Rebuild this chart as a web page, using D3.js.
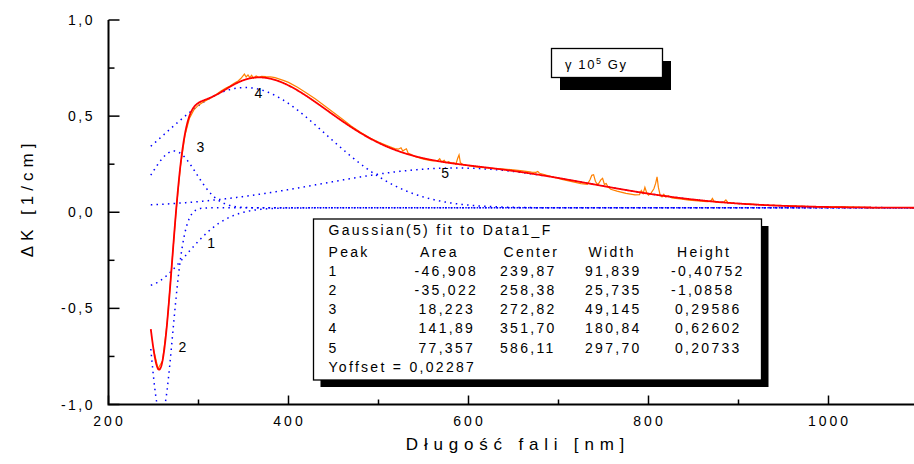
<!DOCTYPE html>
<html>
<head>
<meta charset="utf-8">
<script src="https://cdn.jsdelivr.net/npm/d3@7"></script>
<style>
  body { margin: 0; background: #fff; }
  svg { display: block; }
  text { font-family: "Liberation Sans", Arial, sans-serif; fill: #000; }
</style>
</head>
<body>
<svg id="chart" width="914" height="464"></svg>
<script>
// Gaussian(5) fit parameters as printed in the results table
const peakIds    = ["1", "2", "3", "4", "5"];
const peakArea   = ["-46,908", "-35,022", "18,223", "141,89", "77,357"];
const peakCenter = ["239,87", "258,38", "272,82", "351,70", "586,11"];
const peakWidth  = ["91,839", "25,735", "49,145", "180,84", "297,70"];
const peakHeight = ["-0,40752", "-1,0858", "0,29586", "0,62602", "0,20733"];
const yOffsetText = "0,02287";

// wavelength span of the fitted curves [nm]
const fitRange = [247, 1095];

// measured spectrum: [wavelength nm, deviation from the fitted sum]
const measuredDev = [
  [250, 0], [255, 0], [260, 0], [265, 0], [270, 0], [275, 0], [280, -0.004], [285, -0.008],
  [290, -0.012], [295, -0.014], [300, -0.012], [305, -0.008], [310, -0.004], [315, -0.002],
  [320, 0.002], [325, 0.006], [330, 0.006], [335, 0.004], [340, 0.006], [344, 0.008],
  [347, 0.014], [349, 0.022], [351, 0.03], [353, 0.012], [355, 0.02], [357, 0.004],
  [359, 0.014], [361, -0.002], [364, 0.008], [367, 0.0], [370, 0.006], [375, 0.006],
  [380, 0.01], [385, 0.012], [390, 0.012], [395, 0.014], [400, 0.016], [410, 0.016],
  [420, 0.016], [430, 0.016], [440, 0.015], [450, 0.013], [460, 0.01], [470, 0.006],
  [480, 0.004], [490, 0.002], [500, 0.004], [510, 0.006], [518, 0.006], [522, 0.01],
  [525, 0.022], [527, 0.008], [529, 0.018], [531, 0.026], [533, 0.006], [536, 0.004],
  [540, -0.002], [550, -0.004], [560, -0.004], [566, 0.004], [568, 0.014], [570, 0.0],
  [573, 0.01], [575, -0.002], [578, 0.006], [581, 0.0], [584, 0.004], [586, -0.002],
  [588, 0.03], [589.5, 0.048], [591, 0.008], [594, 0.0], [600, -0.002], [610, -0.003],
  [620, -0.002], [630, 0.0], [640, 0.004], [650, 0.006], [660, 0.007], [670, 0.008],
  [675, 0.01], [677, 0.016], [679, 0.008], [685, 0.005], [695, 0.0], [705, -0.004],
  [715, -0.006], [725, -0.008], [732, -0.006], [735, 0.02], [737, 0.045], [739, 0.05],
  [741, 0.018], [743, 0.004], [745, 0.012], [747, 0.03], [749, 0.04], [751, 0.01],
  [753, 0.016], [755, 0.0], [758, -0.01], [765, -0.014], [775, -0.017], [785, -0.017],
  [790, -0.013], [792, 0.01], [794, -0.004], [796, 0.03], [798, 0.004], [800, -0.008],
  [803, 0.006], [806, 0.03], [808, 0.06], [809.5, 0.094], [811, 0.04], [813, 0.0],
  [815, -0.006], [817, 0.008], [819, -0.004], [822, 0.004], [826, -0.005], [835, -0.005],
  [845, -0.005], [855, -0.004], [865, -0.003], [869, 0.0], [871, 0.016], [873, 0.0],
  [880, -0.003], [884, 0.004], [886, 0.014], [888, 0.002], [895, 0.0], [910, 0.001],
  [930, 0.0], [960, 0.002], [990, 0.0], [1020, 0.002], [1050, 0.0], [1060, 0]
];

// axis ticks
const xTicks = [200, 400, 600, 800, 1000];
const xTickLabels = ["200", "400", "600", "800", "1000"];
const xMinorTicks = [300, 500, 700, 900];
const yTicks = [-1, -0.5, 0, 0.5, 1];
const yTickLabels = ["-1,0", "-0,5", "0,0", "0,5", "1,0"];
const yMinorTicks = [-0.75, -0.25, 0.25, 0.75];

// where each component's number is written (data coordinates)
const peakLabelAt = [[314, -0.16], [282, -0.70], [302, 0.338], [366.5, 0.62], [574, 0.203]];

const xTitle = "Długość fali [nm]";
const yTitle = "ΔK  [1/cm]";
const tableTitle = "Gaussian(5) fit to Data1_F";
const tableHeader = ["Peak", "Area", "Center", "Width", "Height"];

// ---------------------------------------------------------------
const num = s => +s.replace(",", ".");
const A = peakArea.map(num), C = peakCenter.map(num), W = peakWidth.map(num);
const y0 = num(yOffsetText);
const gauss = (i, x) => A[i] / (W[i] * Math.sqrt(Math.PI / 2)) * Math.exp(-2 * ((x - C[i]) / W[i]) ** 2);
const component = (i, x) => y0 + gauss(i, x);
const fitSum = x => y0 + d3.sum(peakIds, (_, i) => gauss(i, x));

const svg = d3.select("#chart");
const x = d3.scaleLinear().domain([200, 1095]).range([108.5, 914]);
const y = d3.scaleLinear().domain([-1, 1]).range([404.5, 20]);

svg.append("defs").append("clipPath").attr("id", "plotClip")
  .append("rect").attr("x", x(200)).attr("y", y(1) - 1)
  .attr("width", x(1095) - x(200)).attr("height", y(-1) - y(1) + 1);

const plot = svg.append("g").attr("clip-path", "url(#plotClip)");
const line = d3.line().x(d => x(d[0])).y(d => y(d[1]));
const grid = d3.range(fitRange[0], fitRange[1] + 0.01, 0.5);

// individual Gaussian components (dotted blue)
peakIds.forEach((_, i) => {
  plot.append("path")
    .attr("d", line(grid.map(w => [w, component(i, w)])))
    .attr("fill", "none").attr("stroke", "#0000ff")
    .attr("stroke-width", 1.5).attr("stroke-dasharray", "1.5,4.2");
});

// measured spectrum (orange)
plot.append("path")
  .attr("d", line(measuredDev.map(([w, dv]) => [w, fitSum(w) + dv])))
  .attr("fill", "none").attr("stroke", "#ff8000").attr("stroke-width", 1.2);

// cumulative fit (red)
plot.append("path")
  .attr("d", line(grid.map(w => [w, fitSum(w)])))
  .attr("fill", "none").attr("stroke", "#ff0000").attr("stroke-width", 1.8);

// component numbers
svg.append("g").selectAll("text").data(peakLabelAt).join("text")
  .attr("x", d => x(d[0])).attr("y", d => y(d[1]) + 5)
  .attr("text-anchor", "middle").attr("font-size", 14)
  .text((d, i) => peakIds[i]);

// axes
const axes = svg.append("g").attr("stroke", "#000").attr("fill", "none");
axes.append("path")
  .attr("d", `M${x(200)},${y(1)}V${y(-1)}H914`)
  .attr("stroke-width", 2);
xTicks.forEach(t => axes.append("line").attr("x1", x(t)).attr("x2", x(t))
  .attr("y1", y(-1)).attr("y2", y(-1) - 9).attr("stroke-width", 1.5));
xMinorTicks.forEach(t => axes.append("line").attr("x1", x(t)).attr("x2", x(t))
  .attr("y1", y(-1)).attr("y2", y(-1) - 5).attr("stroke-width", 1.5));
yTicks.forEach(t => axes.append("line").attr("x1", x(200)).attr("x2", x(200) + 11)
  .attr("y1", y(t)).attr("y2", y(t)).attr("stroke-width", 1.5));
yMinorTicks.forEach(t => axes.append("line").attr("x1", x(200)).attr("x2", x(200) + 6)
  .attr("y1", y(t)).attr("y2", y(t)).attr("stroke-width", 1.5));

svg.append("g").selectAll("text").data(xTicks).join("text")
  .attr("x", d => x(d) + 1).attr("y", 426)
  .attr("text-anchor", "middle").attr("font-size", 14).attr("letter-spacing", 3)
  .text((d, i) => xTickLabels[i]);

svg.append("g").selectAll("text").data(yTicks).join("text")
  .attr("x", 95).attr("y", d => y(d) + 5)
  .attr("text-anchor", "end").attr("font-size", 14).attr("letter-spacing", 2.5)
  .text((d, i) => yTickLabels[i]);

svg.append("text")
  .attr("x", 518).attr("y", 450).attr("text-anchor", "middle")
  .attr("font-size", 17).attr("letter-spacing", 5.8)
  .text(xTitle);

svg.append("text")
  .attr("transform", "translate(33,198) rotate(-90)").attr("text-anchor", "middle")
  .attr("font-size", 17).attr("letter-spacing", 5)
  .text(yTitle);

// dose box with drop shadow
const dose = svg.append("g");
dose.append("rect").attr("x", 560).attr("y", 61).attr("width", 111).attr("height", 29).attr("fill", "#000");
dose.append("rect").attr("x", 551.5).attr("y", 48.5).attr("width", 111).attr("height", 29)
  .attr("fill", "#fff").attr("stroke", "#000").attr("stroke-width", 1.3);
const doseText = dose.append("text").attr("x", 565).attr("y", 69)
  .attr("font-size", 13).attr("letter-spacing", 1.6);
doseText.append("tspan").text("γ 10");
doseText.append("tspan").attr("font-size", 9).attr("dy", -5).text("5");
doseText.append("tspan").attr("dy", 5).text(" Gy");

// fit results table with drop shadow
const tbl = svg.append("g");
const tx = 313.5, ty = 219, tw = 448, th = 161;
tbl.append("rect").attr("x", tx + 7).attr("y", ty + 7).attr("width", tw).attr("height", th).attr("fill", "#000");
tbl.append("rect").attr("x", tx).attr("y", ty).attr("width", tw).attr("height", th)
  .attr("fill", "#fff").attr("stroke", "#000").attr("stroke-width", 1.3);

const rowY = i => i === 0 ? 235 : 257 + (i - 1) * 19.1;
const colX = [328.5, 418.5, 500, 585, 675];
const headX = [328.5, 420, 503.5, 588.5, 677];
const cell = (xx, yy, s) => tbl.append("text").attr("x", xx).attr("y", yy)
  .attr("font-size", 14).attr("letter-spacing", 2.3).text(s);

cell(328.5, rowY(0), tableTitle);
tableHeader.forEach((h, j) => cell(headX[j], rowY(1), h));
peakIds.forEach((p, i) => {
  const row = [p, peakArea[i], peakCenter[i], peakWidth[i], peakHeight[i]];
  row.forEach((s, j) => cell(colX[j] - (s.startsWith("-") ? 4 : 0), rowY(i + 2), s));
});
cell(328.5, rowY(7), "Yoffset = " + yOffsetText);
</script>
</body>
</html>
